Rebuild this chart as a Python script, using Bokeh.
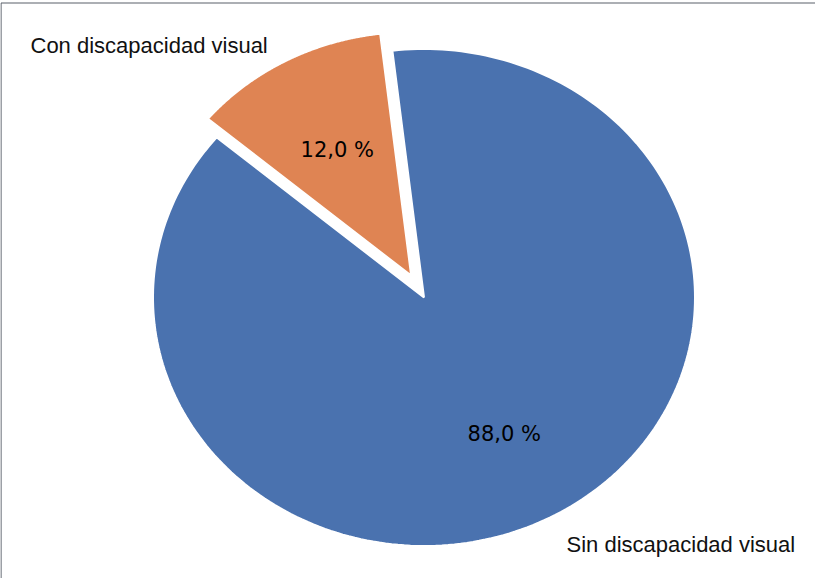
import numpy as np
from bokeh.plotting import figure
from bokeh.models import Range1d, ColumnDataSource
from bokeh.core.properties import value
from bokeh.embed import file_html
from bokeh.resources import INLINE

# ---- data ----
categories = ["Con discapacidad visual", "Sin discapacidad visual"]
values = [12.0, 88.0]
pct_labels = ["12,0 %", "88,0 %"]
colors = ["#DF8453", "#4A72AF"]

# ---- layout constants ----
W, H = 815, 578
CX, CY = 423.5, 281.0      # pie centre (data units = px)
RX, RY = 271.0, 248.5      # ellipse radii
START = 96.7               # degrees, counter-clockwise from +x
explode = [0.10, 0.0]
rscale = [0.98, 1.0]
label_r = [0.575, 0.625]
cat_pos = [(30, 533), (566, 34)]

p = figure(width=W, height=H, output_backend="svg", toolbar_location=None,
           x_range=Range1d(0, W), y_range=Range1d(0, H),
           min_border=0, outline_line_color=None)
p.axis.visible = False
p.grid.visible = False
p.background_fill_color = "white"
p.border_fill_color = "white"

total = float(sum(values))
xs, ys, lx, ly = [], [], [], []
a0 = START
for v, ex, rs, lr in zip(values, explode, rscale, label_r):
    span = 360.0 * v / total
    a1 = a0 + span
    mid = np.radians((a0 + a1) / 2)
    ox = CX + ex * RX * np.cos(mid)
    oy = CY + ex * RY * np.sin(mid)
    t = np.radians(np.linspace(a0, a1, 240))
    px = np.concatenate([[ox], ox + rs * RX * np.cos(t)])
    py = np.concatenate([[oy], oy + rs * RY * np.sin(t)])
    xs.append(list(px))
    ys.append(list(py))
    lx.append(ox + lr * RX * np.cos(mid))
    ly.append(oy + lr * RY * np.sin(mid))
    a0 = a1

src = ColumnDataSource(dict(xs=xs, ys=ys, color=colors, lx=lx, ly=ly, pct=pct_labels,
                            cat=categories, cx=[c[0] for c in cat_pos], cy=[c[1] for c in cat_pos]))

p.patches("xs", "ys", source=src, fill_color="color", line_color="white", line_width=2)

p.text("lx", "ly", text="pct", source=src, text_font=value("DejaVu Sans"),
       text_font_size="21px", text_align="center", text_baseline="middle", text_color="#000000")

p.text("cx", "cy", text="cat", source=src, text_font=value("Liberation Sans"),
       text_font_size="22px", text_align="left", text_baseline="alphabetic", text_color="#111111")

# chart area border (top and left visible)
p.segment(x0=[0.5, 0.5], y0=[575.5, 575.5], x1=[W, 0.5], y1=[575.5, 0],
          line_color="#5A606B", line_width=1.2)

open("out.html", "w").write(file_html(p, INLINE))
